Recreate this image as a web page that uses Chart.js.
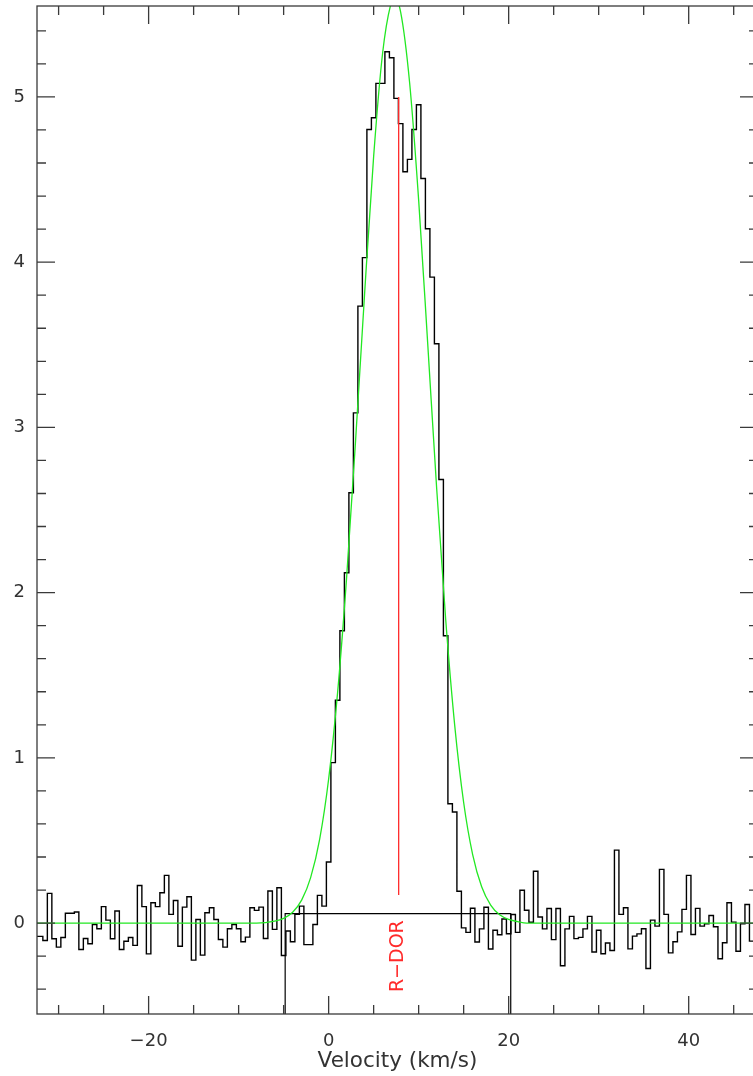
<!DOCTYPE html>
<html>
<head>
<meta charset="utf-8">
<script src="https://cdn.jsdelivr.net/npm/chart.js@4.4.0/dist/chart.umd.min.js"></script>
<style>
  html, body { margin: 0; padding: 0; background: #fff; overflow: hidden; }
  #grafica { display: block; }
</style>
</head>
<body>
<canvas id="grafica" width="762" height="1076"></canvas>
<script>
// canales del espectro (km/s), centro del primer canal y ancho
const velStart = -32.5;
const velStep = 0.5;

// intensidad por canal
const intensity = [
  -0.08, -0.08, -0.105, 0.18, -0.095, -0.145, -0.087, 0.06, 0.06, 0.067,
  -0.16, -0.093, -0.125, -0.008, -0.034, 0.10, 0.018, -0.095, 0.073, -0.16,
  -0.11, -0.087, -0.135, 0.228, 0.10, -0.186, 0.123, 0.10, 0.184, 0.289,
  0.053, 0.137, -0.14, 0.097, 0.16, -0.224, 0.022, -0.194, 0.063, 0.093,
  0.022, -0.099, -0.145, -0.034, -0.008, -0.034, -0.113, -0.085, 0.093, 0.077,
  0.097, -0.093, 0.194, -0.038, 0.214, -0.196, -0.048, -0.113, 0.053, 0.103,
  -0.13, -0.13, -0.008, 0.168, 0.103, 0.37, 0.971, 1.349, 1.769, 2.12,
  2.604, 3.088, 3.734, 4.027, 4.803, 4.874, 5.082, 5.082, 5.273, 5.237,
  4.991, 4.838, 4.547, 4.622, 4.803, 4.952, 4.506, 4.202, 3.909, 3.506,
  2.685, 1.739, 0.722, 0.672, 0.193, -0.029, -0.056, 0.09, -0.114, -0.035,
  0.096, -0.157, -0.043, -0.07, 0.025, -0.064, 0.052, -0.056, 0.199, 0.078,
  0.005, 0.314, 0.037, -0.035, 0.088, -0.1, 0.088, -0.258, -0.035, 0.041,
  -0.094, -0.086, -0.035, 0.041, -0.175, -0.043, -0.185, -0.12, -0.166, 0.442,
  0.053, 0.093, -0.156, -0.079, -0.065, -0.034, -0.275, 0.018, -0.018, 0.325,
  0.053, -0.18, -0.113, -0.053, 0.083, 0.289, -0.069, 0.089, -0.018, -0.004,
  0.046, -0.022, -0.216, -0.119, 0.123, 0.006, -0.17, -0.004, 0.113, -0.109,
  -0.109
];

// ajuste (curva verde)
const fitVel = [-33, -8, -6, -5, -4, -3, -2, -1, 0, 1, 2, 3, 4, 5, 6, 7, 7.33, 8, 9, 10,
  11, 12, 13, 14, 15, 16, 17, 18, 19, 20, 21, 22, 48];
const fitVal = [0, 0, 0.012, 0.029, 0.066, 0.139, 0.275, 0.507, 0.872, 1.398, 2.094, 2.926,
  3.814, 4.64, 5.267, 5.579, 5.6, 5.513, 5.084, 4.375, 3.513, 2.632, 1.84, 1.2, 0.73,
  0.415, 0.22, 0.109, 0.05, 0.022, 0.009, 0, 0];

// linea roja de la fuente
const sourceName = 'R\u2212DOR';
const sourceVel = [7.78, 7.78];
const sourceVal = [0.17, 5.0];
const sourceLabelVal = -0.2;

// ventana (linea negra)
const windowVel = [-4.83, -4.83, 20.23, 20.23];
const windowVal = [-0.55, 0.057, 0.057, -0.55];

// etiquetas de los ejes
const xTickLabels = [-20, 0, 20, 40];
const yTickLabels = [0, 1, 2, 3, 4, 5];

const fuente = 'DejaVu Sans';
const toPts = (xs, ys) => xs.map((v, i) => ({ x: v, y: ys[i] }));
const velocity = intensity.map((_, i) => velStart + i * velStep);
const menos = v => v < 0 ? '\u2212' + Math.abs(v) : String(v);

// marco con marcas hacia dentro en los cuatro lados + etiqueta roja
const marco = {
  id: 'marco',
  afterDatasetsDraw(chart) {
    const { ctx, chartArea: a, scales: { x, y } } = chart;
    ctx.save();
    ctx.strokeStyle = '#3a3a3a';
    ctx.lineWidth = 1.3;
    ctx.strokeRect(a.left, a.top, a.right - a.left, a.bottom - a.top);
    ctx.beginPath();
    for (let k = -6; k <= 9; k++) {
      const px = x.getPixelForValue(k * 5);
      const len = k % 4 === 0 ? 18 : 9;
      ctx.moveTo(px, a.bottom); ctx.lineTo(px, a.bottom - len);
      ctx.moveTo(px, a.top); ctx.lineTo(px, a.top + len);
    }
    for (let k = -2; k <= 27; k++) {
      const py = y.getPixelForValue(k / 5);
      const len = k % 5 === 0 ? 18 : 9;
      ctx.moveTo(a.left, py); ctx.lineTo(a.left + len, py);
      ctx.moveTo(a.right, py); ctx.lineTo(a.right - len, py);
    }
    ctx.stroke();

    // nombre de la fuente, vertical
    ctx.translate(x.getPixelForValue(sourceVel[0]) - 1, y.getPixelForValue(sourceLabelVal));
    ctx.rotate(-Math.PI / 2);
    ctx.fillStyle = '#ff2a2a';
    ctx.font = '19px "' + fuente + '"';
    ctx.textAlign = 'center';
    ctx.textBaseline = 'middle';
    ctx.fillText(sourceName, 0, 0);
    ctx.restore();
  }
};

const ctx = document.getElementById('grafica').getContext('2d');
new Chart(ctx, {
  type: 'line',
  data: {
    datasets: [
      {
        label: 'ajuste',
        data: toPts(fitVel, fitVal),
        borderColor: '#22e822',
        borderWidth: 1.3,
        pointRadius: 0,
        cubicInterpolationMode: 'monotone',
        order: 0
      },
      {
        label: 'fuente',
        data: toPts(sourceVel, sourceVal),
        borderColor: '#ff2a2a',
        borderWidth: 1.3,
        pointRadius: 0,
        order: 1
      },
      {
        label: 'espectro',
        data: toPts(velocity, intensity),
        stepped: 'middle',
        borderColor: '#000',
        borderWidth: 1.4,
        pointRadius: 0,
        order: 2
      },
      {
        label: 'ventana',
        data: toPts(windowVel, windowVal),
        borderColor: '#000',
        borderWidth: 1.2,
        pointRadius: 0,
        order: 3
      }
    ]
  },
  options: {
    responsive: false,
    devicePixelRatio: 1,
    animation: false,
    layout: { padding: { top: 6, right: 4, left: 0, bottom: 0 } },
    plugins: {
      legend: { display: false },
      tooltip: { enabled: false }
    },
    scales: {
      x: {
        type: 'linear',
        min: -32.4,
        max: 47.7,
        afterBuildTicks: s => { s.ticks = xTickLabels.map(v => ({ value: v })); },
        afterFit: s => { s.height = 62; s.paddingLeft = 0; s.paddingRight = 0; },
        grid: { display: false, drawTicks: false },
        border: { display: false },
        ticks: {
          autoSkip: false, maxRotation: 0, padding: 17, color: '#333',
          font: { family: fuente, size: 18 },
          callback: v => menos(v)
        },
        title: {
          display: true, text: 'Velocity (km/s)', color: '#333',
          font: { family: fuente, size: 21.5 },
          padding: { top: 0, bottom: 2 }
        }
      },
      y: {
        min: -0.55,
        max: 5.55,
        afterBuildTicks: s => { s.ticks = yTickLabels.map(v => ({ value: v })); },
        afterFit: s => { s.width = 37; s.paddingTop = 0; s.paddingBottom = 0; },
        grid: { display: false, drawTicks: false },
        border: { display: false },
        ticks: {
          autoSkip: false, padding: 12, color: '#333',
          font: { family: fuente, size: 18 },
          callback: v => menos(v)
        }
      }
    }
  },
  plugins: [marco]
});
</script>
</body>
</html>
